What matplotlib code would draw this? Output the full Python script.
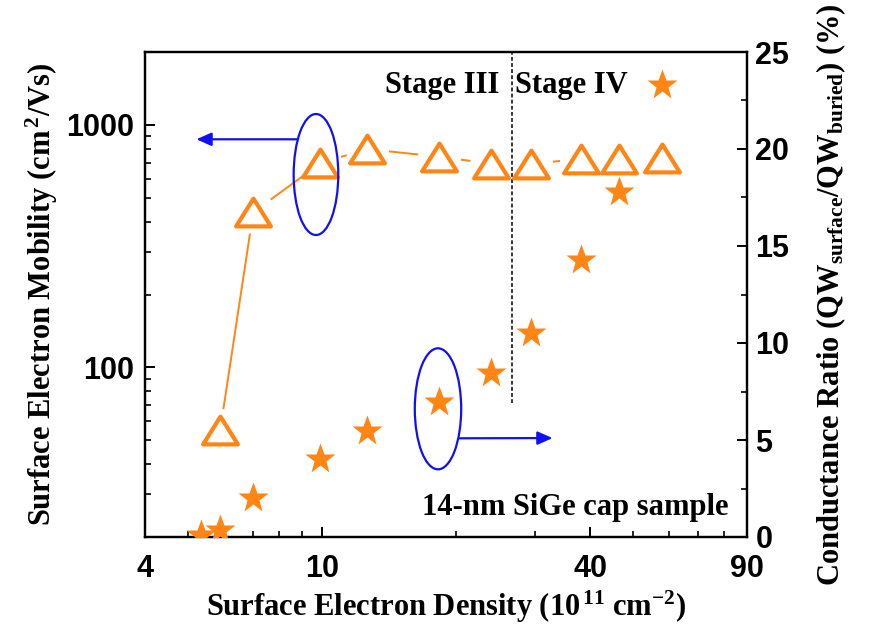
import matplotlib
matplotlib.use("Agg")
import matplotlib.pyplot as plt
from matplotlib.path import Path
from matplotlib.patches import Ellipse
from matplotlib.font_manager import FontProperties
from matplotlib.ticker import FixedLocator, FixedFormatter, NullFormatter, MultipleLocator

plt.rcParams['mathtext.fontset'] = 'custom'
plt.rcParams['mathtext.rm'] = 'Liberation Serif:bold'
plt.rcParams['mathtext.it'] = 'Liberation Serif:bold:italic'
plt.rcParams['mathtext.bf'] = 'Liberation Serif:bold'

# ---- data ----
density_mob = [5.9, 7.0, 9.9, 12.6, 18.3, 23.9, 29.5, 38.2, 46.5, 58.1]
mobility = [55, 436, 695, 796, 740, 693, 693, 724, 724, 729]

density_ratio = [5.34, 5.9, 7.0, 9.9, 12.6, 18.3, 23.9, 29.5, 38.2, 46.5, 58.1]
ratio = [0.1, 0.36, 2.0, 4.0, 5.48, 6.97, 8.47, 10.5, 14.3, 17.8, 23.3]

stage_boundary = 26.7
x_ticks = [4, 10, 40, 90]
x_ticklabels = ['4', '10', '40', '90']
y_ticks = [100, 1000]
y_ticklabels = ['100', '1000']
y2_ticks = [0, 5, 10, 15, 20, 25]

orange = '#FF8515'
blue = '#1010F0'

fig = plt.figure(figsize=(8.71, 6.34), dpi=100)
ax = fig.add_axes([145/871, 97/634, 602/871, 485/634])

ax.set_xscale('log')
ax.set_yscale('log')
ax.set_xlim(4, 90)
ax.set_ylim(20, 2000)

# line with gaps around markers
ax.plot(density_mob, mobility, '-', color=orange, lw=1.4, zorder=1)
ax.plot(density_mob, mobility, 'o', ms=31, color='white', mec='none', zorder=2)

ax.axvline(stage_boundary, ymin=0.276, ymax=1.0, color='black', lw=1.1,
           ls=(0, (2.5, 1.5)), zorder=3)

tri = Path([(0, 0.8), (-1, -0.8), (1, -0.8), (0, 0.8)], closed=True)
ax.plot(density_mob, mobility, ls='none', marker=tri, ms=25, mfc='white',
        mec=orange, mew=3.0, zorder=4)

# ticks
ax.xaxis.set_major_locator(FixedLocator(x_ticks))
ax.xaxis.set_major_formatter(FixedFormatter(x_ticklabels))
ax.xaxis.set_minor_locator(FixedLocator([5, 6, 7, 8, 9, 20, 30, 50, 60, 70, 80]))
ax.xaxis.set_minor_formatter(NullFormatter())
ax.yaxis.set_major_locator(FixedLocator(y_ticks))
ax.yaxis.set_major_formatter(FixedFormatter(y_ticklabels))
ax.yaxis.set_minor_locator(FixedLocator([20, 30, 40, 50, 60, 70, 80, 90,
                                         200, 300, 400, 500, 600, 700, 800, 900, 2000]))
ax.yaxis.set_minor_formatter(NullFormatter())

tickfont = dict(family='Liberation Sans', weight='bold', size=22)
for lab in ax.get_xticklabels() + ax.get_yticklabels():
    lab.set_fontproperties(FontProperties(**tickfont))
ax.tick_params(which='major', direction='in', length=7, width=1.4, pad=8)
ax.tick_params(axis='x', which='major', pad=12)
ax.tick_params(which='minor', direction='in', length=4, width=1.2)
ax.tick_params(axis='x', which='both', top=False)
for s in ax.spines.values():
    s.set_linewidth(1.6)

ax2 = ax.twinx()
ax2.set_ylim(0, 25)
ax2.set_xlim(4, 90)
ax2.plot(density_ratio, ratio, ls='none', marker='*', ms=23, color=orange,
         mec='none', zorder=5, clip_on=True)
ax2.yaxis.set_major_locator(FixedLocator(y2_ticks))
ax2.yaxis.set_minor_locator(MultipleLocator(2.5))
ax2.tick_params(which='major', direction='in', length=7, width=1.4, pad=6)
ax2.tick_params(which='minor', direction='in', length=4, width=1.2)
for lab in ax2.get_yticklabels():
    lab.set_fontproperties(FontProperties(**tickfont))
for s in ax2.spines.values():
    s.set_linewidth(1.6)

labfont = dict(family='Liberation Serif', weight='bold')
ax.set_xlabel('Surface Electron Density (10$^{\\,11}$ cm$^{-2}$)', fontsize=22, labelpad=4, **labfont)
ax.set_ylabel('Surface Electron Mobility (cm$^{\\,2}$/Vs)', fontsize=22, labelpad=4, **labfont)
ax2.set_ylabel('Conductance Ratio (QW$_{\\rm surface}$/QW$_{\\rm buried}$) (%)', fontsize=22,
               labelpad=18, **labfont)

# annotations
ax2.text(0.588, 0.93, 'Stage III', transform=ax.transAxes, ha='right', va='center',
         fontsize=22, **labfont)
ax2.text(0.614, 0.93, 'Stage IV', transform=ax.transAxes, ha='left', va='center',
         fontsize=22, **labfont)
ax2.text(0.97, 0.06, '14-nm SiGe cap sample', transform=ax.transAxes, ha='right',
         va='center', fontsize=22, **labfont)

e1 = Ellipse((0.284, 0.7474), 0.0741, 0.2495, transform=ax.transAxes, fill=False,
             ec=blue, lw=1.6, zorder=6)
e2 = Ellipse((0.4867, 0.2643), 0.0771, 0.2495, transform=ax.transAxes, fill=False,
             ec=blue, lw=1.6, zorder=6)
ax2.add_patch(e1)
ax2.add_patch(e2)
ax2.annotate('', xy=(0.0854, 0.820), xytext=(0.2525, 0.820), xycoords=ax.transAxes,
             arrowprops=dict(arrowstyle='-|>,head_length=0.9,head_width=0.4', color=blue,
                             lw=1.6, shrinkA=0, shrinkB=0))
ax2.annotate('', xy=(0.677, 0.204), xytext=(0.5226, 0.2035), xycoords=ax.transAxes,
             arrowprops=dict(arrowstyle='-|>,head_length=0.9,head_width=0.4', color=blue,
                             lw=1.6, shrinkA=0, shrinkB=0))

fig.savefig('out.png', dpi=100)
